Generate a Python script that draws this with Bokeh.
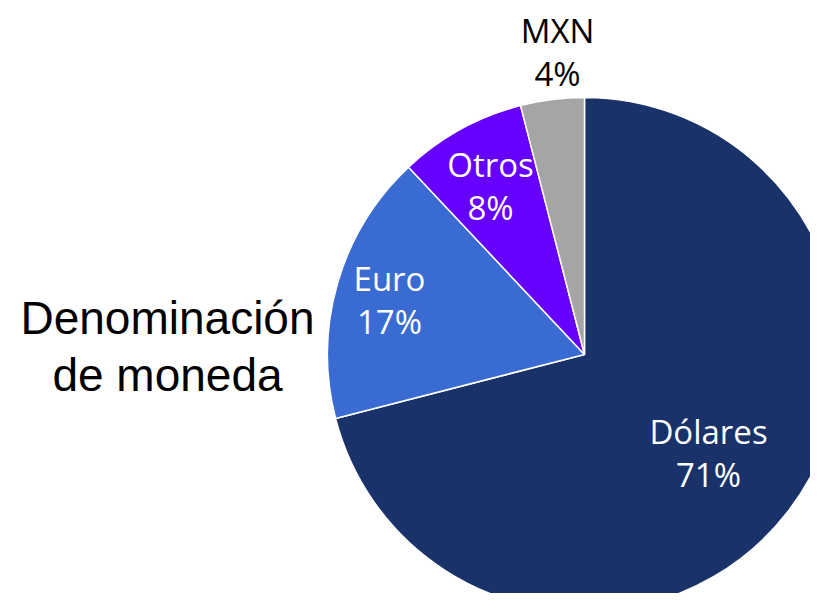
import numpy as np
from bokeh.plotting import figure
from bokeh.models import Range1d, ColumnDataSource
from bokeh.core.properties import value
from bokeh.embed import file_html
from bokeh.resources import INLINE

# ---- data ----
categories = ["Dólares", "Euro", "Otros", "MXN"]
shares = [71, 17, 8, 4]
colors = ["#19326A", "#396BD3", "#6600FF", "#A5A5A5"]
label_colors = ["white", "white", "white", "black"]
title_lines = ["Denominación", "de moneda"]

# ---- layout (screen-like coordinates) ----
W, H = 810, 593
p = figure(width=W, height=H, output_backend="svg", toolbar_location=None,
           x_range=Range1d(0, W), y_range=Range1d(609 - H, 609),
           x_axis_type=None, y_axis_type=None, min_border=0)
p.outline_line_color = None
p.grid.visible = False
p.background_fill_color = "white"
p.border_fill_color = "white"

LAB_FIX = 12    # baseline correction observed in rendering
TITLE_FIX = 16

def Y(ys):
    return 609 - ys

cx, cy, r = 584, Y(354), 257

vals = np.array(shares, dtype=float)
frac = vals / vals.sum()
ends = np.cumsum(frac)
starts = ends - frac
start_angle = np.pi / 2 - ends * 2 * np.pi
end_angle = np.pi / 2 - starts * 2 * np.pi

src = ColumnDataSource(dict(cat=categories, start=start_angle, end=end_angle, color=colors))
p.wedge(x=cx, y=cy, radius=r, radius_units="screen", start_angle="start", end_angle="end",
        fill_color="color", line_color="white", line_width=1.5, source=src)

# label positions (center x, baseline of first line in screen px)
lab_x = [708, 389, 490, 557]
lab_y1 = [443, 290, 176, 42]
gap = 43
names_src = ColumnDataSource(dict(x=lab_x, y=[Y(v) + LAB_FIX for v in lab_y1], t=categories, c=label_colors))
pct_src = ColumnDataSource(dict(x=lab_x, y=[Y(v + gap) + LAB_FIX for v in lab_y1],
                                t=[f"{s}%" for s in shares], c=label_colors))
for s in (names_src, pct_src):
    p.text(x="x", y="y", text="t", text_color="c", source=s, text_align="center",
           text_baseline="alphabetic", text_font=value("Open Sans"), text_font_size="33px")

p.text(x=[167, 167], y=[Y(333) + TITLE_FIX, Y(390) + TITLE_FIX], text=title_lines, text_align="center",
       text_baseline="alphabetic", text_font=value("Liberation Sans"), text_font_size="46px",
       text_color="black")

open("out.html", "w").write(file_html(p, INLINE))
